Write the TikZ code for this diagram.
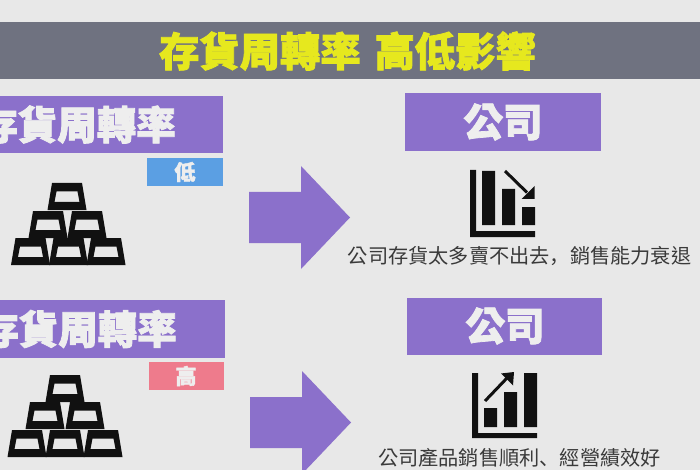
\documentclass[tikz,border=0pt]{standalone}
\usepackage{fontspec}
\setmainfont{Noto Sans CJK TC}
\newfontfamily\cjk[BoldFeatures={FakeBold=2}]{Noto Sans CJK TC}
\newfontfamily\cjksc{Noto Sans CJK SC}
\definecolor{bgc}{HTML}{E8E8E8}
\definecolor{bandc}{HTML}{6F7280}
\definecolor{purp}{HTML}{8B70CB}
\definecolor{bluec}{HTML}{5B9FE3}
\definecolor{pinkc}{HTML}{EE7B8C}
\definecolor{yel}{HTML}{E6E81E}
\definecolor{ink}{HTML}{111111}
\definecolor{capc}{HTML}{3A3A3A}
\definecolor{txtw}{HTML}{EEEEEE}
\newcommand{\sz}[1]{\fontsize{#1}{#1}\selectfont}
\newcommand{\goldbar}[2]{%
  \fill[ink,even odd rule] (#1-15,#2) -- (#1+15,#2) -- (#1+19.5,#2+27) -- (#1-19.5,#2+27) -- cycle
    (#1-10.5,#2+8.5) -- (#1+10.5,#2+8.5) -- (#1+12.5,#2+19) -- (#1-12.5,#2+19) -- cycle;}
\newcommand{\bigarrow}[2]{%
  \fill[purp] (#1,#2+26) -- (#1+52,#2+26) -- (#1+52,#2) -- (#1+101,#2+51.5) -- (#1+52,#2+103) -- (#1+52,#2+77) -- (#1,#2+77) -- cycle;}
\tikzset{
  headtxt/.style={text=txtw, font=\cjk\bfseries\sz{39.5}, inner sep=0pt},
  tagtxt/.style={text=txtw, font=\cjk\bfseries\sz{21}, inner sep=0pt},
  captxt/.style={text=capc, font=\cjk\sz{20.2}, inner sep=0pt},
}
\begin{document}
\begin{tikzpicture}[x=1pt,y=-1pt]
\useasboundingbox (0,0) rectangle (700,470);
\clip (0,0) rectangle (700,470);
\fill[bgc] (0,0) rectangle (700,470);
% title band
\fill[bandc] (0,22) rectangle (700,79);
\node[text=yel, font=\cjk\bfseries\sz{40.3}, inner sep=0pt] (title) at (347.5,51) {存貨周轉率\hspace{14pt}高低影響};
% upper row
\fill[purp] (0,96) rectangle (223,153);
\node[headtxt, anchor=east] (leftA) at (176,124.5) {存貨周轉率};
\fill[bluec] (147,158) rectangle (223,186);
\node[tagtxt] (low) at (185,172) {低};
\goldbar{67}{183}\goldbar{48}{211}\goldbar{87}{211}\goldbar{30.5}{238}\goldbar{68.5}{238}\goldbar{106}{238}
\bigarrow{249}{166}
\fill[purp] (405,93) rectangle (601,151);
\node[headtxt] (compA) at (503,122) {公司};
\fill[ink] (470,170) rectangle (476,237) (470,231) rectangle (535,237)
  (482,171) rectangle (495,225) (502,189) rectangle (515,225) (522,207) rectangle (535,225);
\draw[ink,line width=3pt] (505,171) -- (527,192.5);
\fill[ink] (534.5,199) -- (534.5,186) -- (521.5,199) -- cycle;
\node[captxt] (capA) at (519.5,256.5) {公司存貨太多賣不出去{\cjksc ，}銷售能力衰退};
% lower row
\fill[purp] (0,300) rectangle (225,358);
\node[headtxt, anchor=east] (leftB) at (177,329) {存貨周轉率};
\fill[pinkc] (149,362) rectangle (224,390);
\node[tagtxt] (high) at (186,376) {高};
\goldbar{65}{375}\goldbar{45}{402}\goldbar{85}{402}\goldbar{27}{430}\goldbar{65}{430}\goldbar{103}{430}
\bigarrow{250}{371}
\fill[purp] (407,298) rectangle (602,355);
\node[headtxt] (compB) at (505,326) {公司};
\fill[ink] (472,373) rectangle (478,438) (472,433) rectangle (537,438)
  (484,408) rectangle (497,427) (504,392) rectangle (517,427) (524,373) rectangle (537,427);
\draw[ink,line width=3pt] (485,401) -- (507,378);
\fill[ink] (514,372) -- (501,373.5) -- (513,385.5) -- cycle;
\node[captxt] (capB) at (519.5,458) {公司產品銷售順利{\cjksc 、}經營績效好};
\end{tikzpicture}
\end{document}
